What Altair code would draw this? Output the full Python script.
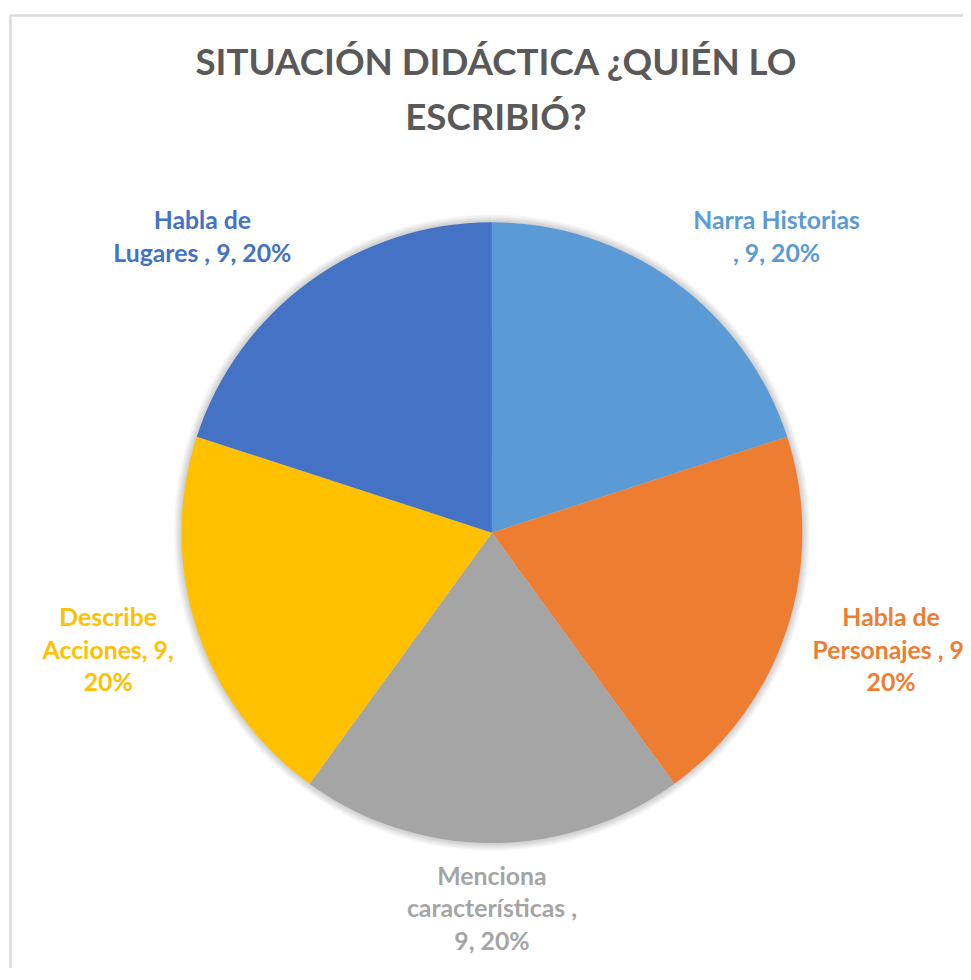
import altair as alt
import pandas as pd

# ---- data ----
categories = ["Narra Historias ", "Habla de Personajes ", "Menciona características ",
              "Describe Acciones", "Habla de Lugares "]
values = [9, 9, 9, 9, 9]
percents = ["20%", "20%", "20%", "20%", "20%"]
label_lines = [
    ["Narra Historias", ", 9, 20%"],
    ["Habla de", "Personajes , 9,", "20%"],
    ["Menciona", "características ,", "9, 20%"],
    ["Describe", "Acciones, 9,", "20%"],
    ["Habla de", "Lugares , 9, 20%"],
]
colors = ["#5B9BD5", "#ED7D31", "#A5A5A5", "#FFC000", "#4472C4"]
title_lines = ["SITUACIÓN DIDÁCTICA ¿QUIÉN LO", "ESCRIBIÓ?"]

df = pd.DataFrame({
    "category": categories,
    "value": values,
    "idx": list(range(len(categories))),
    "label": ["\n".join(l) for l in label_lines],
})

# ---- layout (pixels) ----
W, H = 963, 964
OX = 3
CX, CY, R = 485 + OX, 525, 313
label_anchor = {
    "Narra Historias ": (772 + OX, 219),
    "Habla de Personajes ": (887.5 + OX, 619),
    "Menciona características ": (485 + OX, 880),
    "Describe Acciones": (98 + OX, 619),
    "Habla de Lugares ": (193 + OX, 219),
}
FONT = "Lato"

color_scale = alt.Scale(domain=categories, range=colors)

base = alt.Chart(df)

# soft shadow around the pie
shadow_layers = [
    base.mark_arc(outerRadius=R + k, color="black", opacity=0.025).encode(
        theta=alt.Theta("value:Q", stack=True),
        order=alt.Order("idx:Q"),
        x=alt.value(CX), y=alt.value(CY),
    )
    for k in range(1, 9)
]

pie = base.mark_arc(outerRadius=R).encode(
    theta=alt.Theta("value:Q", stack=True),
    color=alt.Color("category:N", scale=color_scale, legend=None),
    order=alt.Order("idx:Q"),
    x=alt.value(CX), y=alt.value(CY),
)

label_layers = []
for cat, col in zip(categories, colors):
    ax, ay = label_anchor[cat]
    label_layers.append(
        base.transform_filter(alt.datum.category == cat).mark_text(
            font=FONT, fontWeight="bold", fontSize=25, lineBreak="\n",
            lineHeight=33, align="center", baseline="alphabetic", color=col,
        ).encode(x=alt.value(ax), y=alt.value(ay), text="label:N")
    )

title = alt.Chart(pd.DataFrame({"t": ["\n".join(title_lines)]})).mark_text(
    font=FONT, fontWeight="bold", fontSize=37, lineBreak="\n", lineHeight=55,
    align="center", baseline="alphabetic", color="#595959",
).encode(x=alt.value(489 + OX), y=alt.value(64), text="t:N")

border_left = base.mark_rule(color="#d9d9d9", strokeWidth=1.5).encode(
    x=alt.value(2.5), y=alt.value(3), y2=alt.value(H))
border_top = base.mark_rule(color="#d9d9d9", strokeWidth=1.5).encode(
    x=alt.value(2), x2=alt.value(W), y=alt.value(3.5))

chart = alt.layer(
    border_left, border_top, *shadow_layers, pie, *label_layers, title
).properties(
    width=W, height=H, autosize="none", padding=0, background="white"
).configure_view(stroke=None)

chart.save("out.html", embed_options={"renderer": "svg", "actions": False})
